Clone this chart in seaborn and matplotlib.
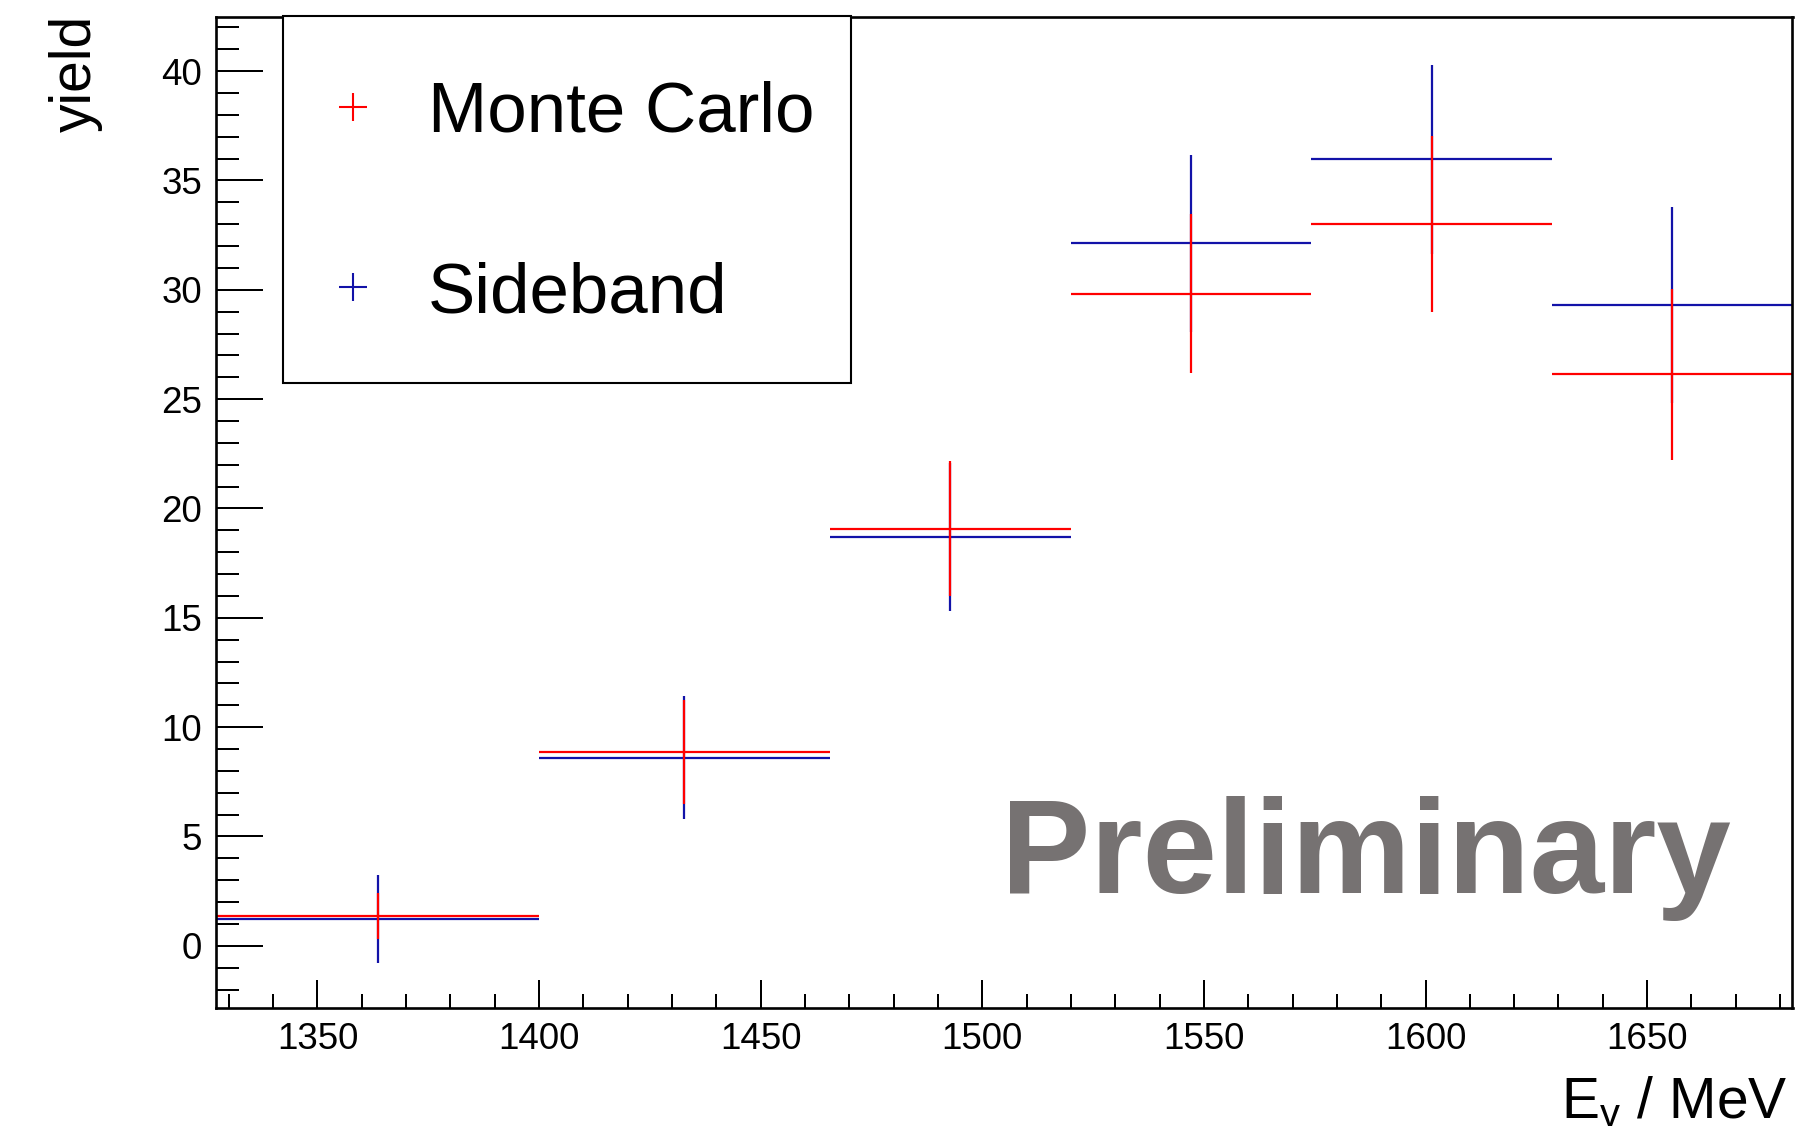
import numpy as np
import pandas as pd
import matplotlib
matplotlib.use("Agg")
import matplotlib.pyplot as plt
from matplotlib.lines import Line2D
from matplotlib.legend_handler import HandlerLine2D
import seaborn as sns

# bin edges in E_gamma (MeV) and yields per bin
bin_edges = [1327.1, 1400.0, 1465.6, 1519.9, 1574.2, 1628.5, 1682.8]
mc_yield = [1.36, 8.86, 19.07, 29.83, 33.01, 26.13]
mc_err = [1.05, 2.37, 3.08, 3.63, 4.01, 3.93]
sb_yield = [1.21, 8.61, 18.69, 32.12, 35.96, 29.31]
sb_err = [2.01, 2.83, 3.37, 4.03, 4.31, 4.48]

series_names = ["Monte Carlo", "Sideband"]
series_colors = {"Monte Carlo": "#ff0000", "Sideband": "#1212a8"}

edges = np.array(bin_edges)
centers = (edges[:-1] + edges[1:]) / 2
half_w = np.diff(edges) / 2

df = pd.concat([
    pd.DataFrame({"E": centers, "xerr": half_w, "yield": mc_yield, "err": mc_err, "sample": "Monte Carlo"}),
    pd.DataFrame({"E": centers, "xerr": half_w, "yield": sb_yield, "err": sb_err, "sample": "Sideband"}),
])


# tall legend rows, with the cross kept level with the label text
class CrossHandler(HandlerLine2D):
    def create_artists(self, legend, orig_handle, xdescent, ydescent, width, height, fontsize, trans):
        arts = super().create_artists(legend, orig_handle, xdescent, ydescent, width, height,
                                      fontsize, trans)
        for a in arts:
            a.set_ydata(np.asarray(a.get_ydata()) - 0.2 * fontsize)
        return arts


sns.set_theme(style="ticks")
plt.rcParams["font.family"] = ["Liberation Sans", "DejaVu Sans"]
plt.rcParams["mathtext.fontset"] = "custom"
plt.rcParams["mathtext.rm"] = "Liberation Sans"
plt.rcParams["text.color"] = "black"
plt.rcParams["axes.labelcolor"] = "black"

fig = plt.figure(figsize=(18.14, 11.26), dpi=100)
ax = fig.add_axes([216 / 1814, 1 - 1007.7 / 1126, (1792.5 - 216) / 1814, (1007.7 - 16.7) / 1126])

# sideband first, MC drawn on top
for name in ["Sideband", "Monte Carlo"]:
    d = df[df["sample"] == name]
    ax.errorbar(d["E"], d["yield"], xerr=d["xerr"], yerr=d["err"], fmt="none",
                ecolor=series_colors[name], elinewidth=1.6, capsize=0)

ax.set_xlim(bin_edges[0], bin_edges[-1])
ax.set_ylim(-2.83, 42.49)
ax.set_xticks(np.arange(1350, 1651, 50))
ax.set_xticks(np.arange(1330, 1681, 10), minor=True)
ax.set_yticks(np.arange(0, 41, 5))
ax.set_yticks(np.arange(-2, 43, 1), minor=True)

ax.tick_params(axis="both", which="both", direction="in", width=1.44, color="black",
               labelsize=26.5, labelcolor="black", top=False, right=False)
ax.tick_params(axis="x", which="major", length=20, pad=10)
ax.tick_params(axis="x", which="minor", length=10)
ax.tick_params(axis="y", which="major", length=33.6, pad=10)
ax.tick_params(axis="y", which="minor", length=16.3)
for sp in ax.spines.values():
    sp.set_visible(True)
    sp.set_linewidth(1.9)
    sp.set_color("black")
ax.set_facecolor("white")
ax.grid(False)

fig.text(76 / 1814, 1 - 15 / 1126, "yield", rotation=90, ha="center", va="top", fontsize=41,
         color="black")
fig.text(1788 / 1814, 1 - 1118 / 1126, "E$_{\\mathregular{\u03b3}}$ / MeV", ha="right",
         va="baseline", fontsize=41, color="black")

fig.text(1001 / 1814, 1 - 893 / 1126, "Preliminary", ha="left", va="baseline",
         fontsize=96.5, fontweight="bold", color="#767272")

handles = [Line2D([], [], linestyle="none", marker="+", markersize=20, markeredgewidth=1.5,
                  color=series_colors[n]) for n in series_names]
leg = ax.legend(handles, series_names, loc="upper left",
                bbox_to_anchor=(283.4 / 1814, 1 - 16.2 / 1126), bbox_transform=fig.transFigure,
                borderaxespad=0, fontsize=51, frameon=True, fancybox=False, framealpha=1,
                edgecolor="black", borderpad=0.52, handlelength=0.92, handletextpad=0.6,
                handleheight=2.07, labelspacing=0.96,
                handler_map={Line2D: CrossHandler()})
leg.get_frame().set_linewidth(1.5)
for t in leg.get_texts():
    t.set_color("black")

fig.savefig("out.png", dpi=100, facecolor="white")
